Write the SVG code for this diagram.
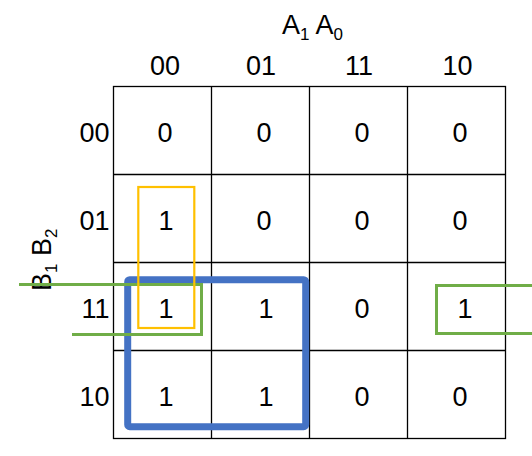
<svg xmlns="http://www.w3.org/2000/svg" width="532" height="456" viewBox="0 0 532 456">
<style>
text{font-family:"Liberation Sans",Arial,sans-serif;font-size:27px;fill:#000}
.v{text-anchor:middle}
.r{text-anchor:end}
.sub{font-size:17px}
.grid{stroke:#000;stroke-width:1.3;fill:none}
.blue{fill:none;stroke:#4472C4;stroke-width:7;stroke-linejoin:round}
.green{fill:none;stroke:#70AD47;stroke-width:3}
.orange{fill:none;stroke:#FFC000;stroke-width:2.2}
</style>
<rect width="532" height="456" fill="#fff"/>
<g id="grid" class="grid">
<rect x="113.5" y="86.5" width="392" height="352"/>
<path d="M211.5,86.5V438.5M309.5,86.5V438.5M407.5,86.5V438.5M113.5,174.5H505.5M113.5,262.5H505.5M113.5,350.5H505.5"/>
</g>
<g id="axis-labels">
<text x="282" y="34">A<tspan class="sub" dy="6">1</tspan><tspan dy="-6"> A</tspan><tspan class="sub" dy="6">0</tspan></text>
<text transform="translate(51,291) rotate(-90)">B<tspan class="sub" dy="6">1</tspan><tspan dy="-6"> B</tspan><tspan class="sub" dy="6">2</tspan></text>
</g>
<g id="col-headers">
<text class="v" x="165" y="75">00</text>
<text class="v" x="261" y="75">01</text>
<text class="v" x="359" y="75">11</text>
<text class="v" x="457.5" y="75">10</text>
</g>
<g id="row-headers">
<text class="r" x="109.5" y="141.5">00</text>
<text class="r" x="109.5" y="229.5">01</text>
<text class="r" x="109.5" y="317.5">11</text>
<text class="r" x="109.5" y="405.5">10</text>
</g>
<g id="cells">
<text class="v" x="165" y="141.5">0</text>
<text class="v" x="264" y="141.5">0</text>
<text class="v" x="362" y="141.5">0</text>
<text class="v" x="460" y="141.5">0</text>
<text class="v" x="166" y="229.5">1</text>
<text class="v" x="264" y="229.5">0</text>
<text class="v" x="362" y="229.5">0</text>
<text class="v" x="460" y="229.5">0</text>
<text class="v" x="166" y="317.5">1</text>
<text class="v" x="266" y="317.5">1</text>
<text class="v" x="362" y="317.5">0</text>
<text class="v" x="465" y="317.5">1</text>
<text class="v" x="166" y="405.5">1</text>
<text class="v" x="266" y="405.5">1</text>
<text class="v" x="362" y="405.5">0</text>
<text class="v" x="460" y="405.5">0</text>
</g>
<g id="groups">
<rect id="group-blue" class="blue" x="127.7" y="279.7" width="178" height="147" rx="2"/>
<path id="group-green-left" class="green" d="M19,284.5H201.5V334.5H72"/>
<path id="group-green-right" class="green" d="M532,285.5H436.5V333.5H532"/>
<rect id="group-orange" class="orange" x="138.3" y="187" width="56" height="141"/>
</g>
</svg>
